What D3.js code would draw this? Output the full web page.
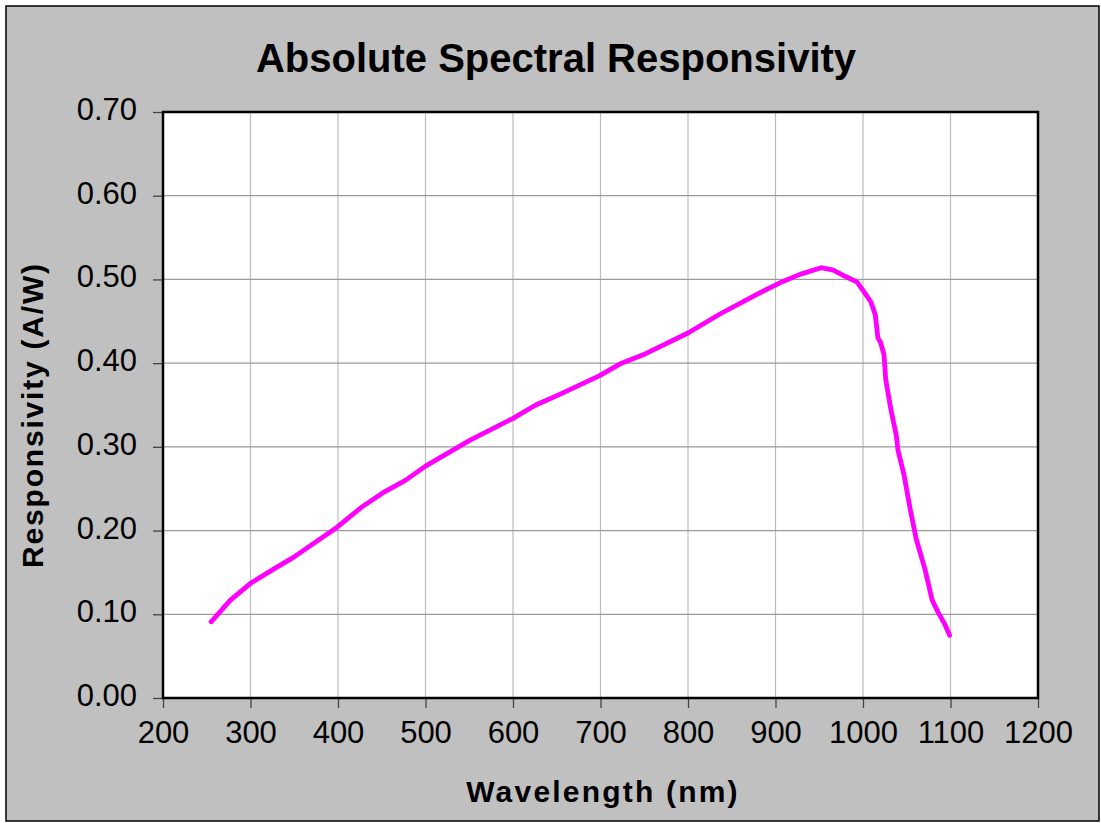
<!DOCTYPE html>
<html><head><meta http-equiv="Content-Type" content="text/html; charset=utf-8">
<script src="https://d3js.org/d3.v7.min.js"></script>
<style>
  body { margin: 0; background: #fff; }
  text { font-family: "Liberation Sans", Arial, sans-serif; }
</style>
</head>
<body>
<div id="chart"></div>
<script type="text/javascript">

var width = 1101;
var height = 823;

// wavelength (nm) and responsivity (A/W)
var wavelength = [255, 277, 300, 325, 349, 399, 427, 451, 477, 500, 551, 600, 626, 654, 699, 724, 751, 800, 837, 882, 905, 928, 952, 966, 977, 993, 1000, 1009, 1014, 1017, 1020, 1024, 1026, 1032, 1038, 1040, 1047, 1054, 1061, 1071, 1079, 1086, 1094, 1099];
var responsivity = [0.091, 0.117, 0.137, 0.153, 0.168, 0.204, 0.228, 0.245, 0.260, 0.277, 0.308, 0.334, 0.350, 0.363, 0.385, 0.400, 0.411, 0.436, 0.459, 0.484, 0.496, 0.506, 0.514, 0.511, 0.505, 0.497, 0.487, 0.473, 0.458, 0.430, 0.425, 0.410, 0.380, 0.344, 0.314, 0.296, 0.266, 0.225, 0.189, 0.153, 0.117, 0.102, 0.087, 0.075];

var xTicks = [200, 300, 400, 500, 600, 700, 800, 900, 1000, 1100, 1200];
var yTicks = [0, 0.1, 0.2, 0.3, 0.4, 0.5, 0.6, 0.7];

var chartTitle = "Absolute Spectral Responsivity";
var xTitle = "Wavelength (nm)";
var yTitle = "Responsivity (A/W)";

var plot = {left: 163, top: 112, right: 1038, bottom: 698};

var svg = d3.select("#chart")
  .append("svg")
  .attr("width", width)
  .attr("height", height);

// grey chart background with thin black frame
svg.append("rect")
  .attr("x", 6).attr("y", 6)
  .attr("width", 1093).attr("height", 815)
  .style("fill", "#c0c0c0")
  .style("stroke", "#000")
  .style("stroke-width", 1.5);

var x = d3.scaleLinear().domain([200, 1200]).range([plot.left, plot.right]);
var y = d3.scaleLinear().domain([0, 0.7]).range([plot.bottom, plot.top]);

svg.append("rect")
  .attr("x", plot.left).attr("y", plot.top)
  .attr("width", plot.right - plot.left).attr("height", plot.bottom - plot.top)
  .style("fill", "#fff");

// gridlines
svg.append("g")
  .selectAll("line")
  .data(xTicks)
  .enter()
  .append("line")
  .attr("x1", function(d) { return x(d); })
  .attr("x2", function(d) { return x(d); })
  .attr("y1", plot.top).attr("y2", plot.bottom)
  .style("stroke", "#bdbdbd")
  .style("stroke-width", 1.2);

svg.append("g")
  .selectAll("line")
  .data(yTicks)
  .enter()
  .append("line")
  .attr("x1", plot.left).attr("x2", plot.right)
  .attr("y1", function(d) { return y(d); })
  .attr("y2", function(d) { return y(d); })
  .style("stroke", "#9a9a9a")
  .style("stroke-width", 1.2);

// axes
var xAxis = svg.append("g")
  .attr("transform", "translate(0," + plot.bottom + ")")
  .call(d3.axisBottom(x).tickValues(xTicks).tickSize(10).tickPadding(13).tickFormat(d3.format("d")));

var yAxis = svg.append("g")
  .attr("transform", "translate(" + plot.left + ",0)")
  .call(d3.axisLeft(y).tickValues(yTicks).tickSize(10).tickPadding(16).tickFormat(d3.format(".2f")));

[xAxis, yAxis].forEach(function(a) {
  a.select(".domain").remove();
  a.selectAll(".tick line").style("stroke", "#444").style("stroke-width", 1.3);
  a.selectAll(".tick text")
    .style("font-size", "31px")
    .style("fill", "#000")
    .style("font-family", "'Liberation Sans', Arial, sans-serif");
});
yAxis.selectAll(".tick text").attr("dy", "0.24em");

// plot frame
svg.append("rect")
  .attr("x", plot.left).attr("y", plot.top)
  .attr("width", plot.right - plot.left).attr("height", plot.bottom - plot.top)
  .style("fill", "none")
  .style("stroke", "#000")
  .style("stroke-width", 2.5);

// the curve
var points = wavelength.map(function(w, i) { return [w, responsivity[i]]; });

var line = d3.line()
  .x(function(d) { return x(d[0]); })
  .y(function(d) { return y(d[1]); });

svg.append("path")
  .datum(points)
  .attr("d", line)
  .style("fill", "none")
  .style("stroke", "#ff00ff")
  .style("stroke-width", 4.8)
  .style("stroke-linejoin", "round")
  .style("stroke-linecap", "round");

// titles
svg.append("text")
  .attr("x", 556).attr("y", 72)
  .attr("text-anchor", "middle")
  .style("font-size", "40px")
  .style("font-weight", "bold")
  .text(chartTitle);

svg.append("text")
  .attr("x", 603).attr("y", 802)
  .attr("text-anchor", "middle")
  .style("font-size", "30px")
  .style("font-weight", "bold")
  .style("letter-spacing", "2.2px")
  .text(xTitle);

svg.append("text")
  .attr("transform", "translate(43,415) rotate(-90)")
  .attr("text-anchor", "middle")
  .style("font-size", "30px")
  .style("font-weight", "bold")
  .style("letter-spacing", "1.8px")
  .text(yTitle);

</script>
</body></html>
